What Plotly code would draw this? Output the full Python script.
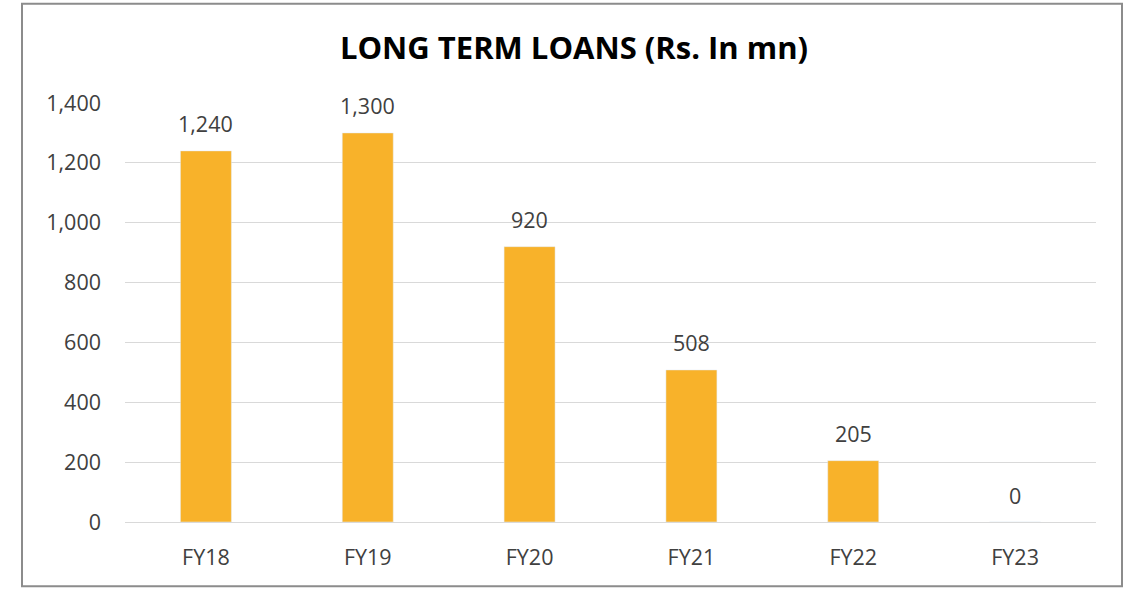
import plotly.graph_objects as go

categories = ["FY18", "FY19", "FY20", "FY21", "FY22", "FY23"]
loans = [1240, 1300, 920, 508, 205, 0]
y_ticks = [0, 200, 400, 600, 800, 1000, 1200, 1400]
y_tick_labels = ["0", "200", "400", "600", "800", "1,000", "1,200", "1,400"]
title_text = "<b>LONG TERM LOANS (Rs. In mn)</b>"

FONT = "Open Sans"
bar_color = "#F8B22A"
text_color = "#404040"

fig = go.Figure()
fig.add_trace(go.Bar(
    x=categories, y=loans, marker_color=bar_color, width=0.315,
    hoverinfo="x+y",
))

for c, v in zip(categories, loans):
    fig.add_annotation(x=c, y=v, text=f"{v:,}", showarrow=False,
                       yanchor="middle", yshift=27,
                       font=dict(family=FONT, size=21.5, color=text_color))

W, H = 1133, 590
l, r, t, b = 125, 37, 102.5, 67.5
pw, ph = W - l - r, H - t - b
def px_x(x):
    return (x - l) / pw
def px_y(y):
    return (H - b - y) / ph

fig.add_shape(type="rect", xref="paper", yref="paper",
              x0=px_x(22), x1=px_x(1122), y0=px_y(587), y1=px_y(3),
              line=dict(color="#8c8c8c", width=2), fillcolor="rgba(0,0,0,0)",
              layer="below")

fig.update_layout(
    width=W, height=H,
    margin=dict(l=l, r=r, t=t, b=b),
    paper_bgcolor="white", plot_bgcolor="white",
    title=dict(text=title_text, x=574 / W, xref="container", xanchor="center",
               y=1 - 48 / H, yref="container", yanchor="middle",
               font=dict(family=FONT, size=31, color="#000000")),
    showlegend=False,
    xaxis=dict(showgrid=False, showline=False, zeroline=False,
               tickfont=dict(family=FONT, size=21.5, color=text_color),
               ticklabelstandoff=20, fixedrange=True),
    yaxis=dict(range=[0, 1400], tickvals=y_ticks, ticktext=y_tick_labels,
               showgrid=True, gridcolor="#d9d9d9", gridwidth=1,
               zeroline=True, zerolinecolor="#d9d9d9", zerolinewidth=1,
               showline=False,
               tickfont=dict(family=FONT, size=21.5, color=text_color),
               ticklabelstandoff=23, fixedrange=True),
)

fig.write_html("out.html")
